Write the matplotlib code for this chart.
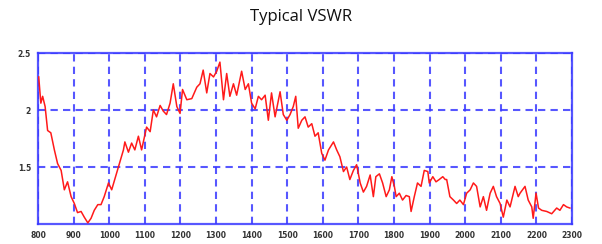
import matplotlib
matplotlib.use("Agg")
import matplotlib.pyplot as plt

title = "Typical VSWR"

freq_mhz = [802, 808, 813, 820, 827, 836, 846, 855, 865, 874, 883, 893, 902, 911, 921, 930,
            940, 949, 958, 968, 977, 986, 998, 1007, 1026, 1040, 1044, 1054, 1063, 1072, 1082,
            1091, 1105, 1115, 1124, 1133, 1143, 1152, 1161, 1171, 1180, 1190, 1199, 1206, 1218,
            1232, 1246, 1255, 1264, 1274, 1283, 1293, 1302, 1311, 1321, 1330, 1339, 1349, 1358,
            1372, 1382, 1391, 1400, 1410, 1419, 1428, 1438, 1447, 1456, 1466, 1480, 1489, 1499,
            1508, 1517, 1524, 1531, 1541, 1550, 1559, 1569, 1578, 1587, 1597, 1606, 1616, 1630,
            1639, 1648, 1658, 1667, 1676, 1686, 1695, 1705, 1714, 1723, 1733, 1742, 1749, 1759,
            1768, 1778, 1787, 1794, 1801, 1806, 1815, 1824, 1834, 1843, 1848, 1857, 1866, 1876,
            1885, 1895, 1899, 1909, 1918, 1927, 1937, 1944, 1948, 1957, 1967, 1976, 1985, 1995,
            2004, 2014, 2023, 2032, 2042, 2051, 2060, 2070, 2079, 2088, 2098, 2107, 2117, 2126,
            2140, 2149, 2154, 2168, 2177, 2187, 2191, 2199, 2206, 2215, 2229, 2243, 2257, 2266,
            2276, 2285, 2294]

vswr = [2.29, 2.06, 2.12, 2.03, 1.82, 1.80, 1.65, 1.53, 1.47, 1.30, 1.37, 1.24, 1.18, 1.10, 1.11, 1.06,
        1.01, 1.05, 1.12, 1.17, 1.17, 1.24, 1.36, 1.30, 1.50, 1.65, 1.72, 1.63, 1.71, 1.65, 1.77,
        1.65, 1.85, 1.81, 2.00, 1.94, 2.04, 1.99, 1.96, 2.06, 2.23, 2.03, 1.97, 2.18, 2.09,
        2.10, 2.20, 2.23, 2.35, 2.15, 2.32, 2.29, 2.34, 2.42, 2.09, 2.32, 2.12, 2.23, 2.13,
        2.34, 2.18, 2.23, 2.06, 2.01, 2.12, 2.09, 2.13, 1.91, 2.15, 1.94, 2.16, 1.96, 1.91,
        1.96, 2.03, 2.12, 1.84, 1.91, 1.94, 1.85, 1.88, 1.77, 1.80, 1.62, 1.56, 1.65, 1.72,
        1.65, 1.59, 1.46, 1.50, 1.39, 1.47, 1.52, 1.36, 1.28, 1.33, 1.43, 1.24, 1.415, 1.44,
        1.36, 1.24, 1.30, 1.415, 1.33, 1.24, 1.27, 1.21, 1.25, 1.24, 1.11, 1.24, 1.36, 1.33,
        1.47, 1.46, 1.36, 1.415, 1.37, 1.39, 1.415, 1.39, 1.39, 1.24, 1.21, 1.18, 1.21, 1.17,
        1.27, 1.30, 1.36, 1.33, 1.15, 1.24, 1.12, 1.27, 1.33, 1.24, 1.18, 1.06, 1.21, 1.15,
        1.33, 1.24, 1.27, 1.33, 1.21, 1.15, 1.05, 1.27, 1.14, 1.12, 1.11, 1.09, 1.14, 1.12,
        1.17, 1.15, 1.14]

x_ticks = list(range(800, 2301, 100))
y_ticks = [1.5, 2.0, 2.5]
y_tick_labels = ["1.5", "2", "2.5"]

fig = plt.figure(figsize=(6.02, 2.44), dpi=100)
ax = fig.add_axes([38 / 602, 20 / 244, 534 / 602, 171 / 244])

blue = "#3a3aff"
ax.plot(freq_mhz, vswr, color="#ff1a1a", linewidth=1.1, zorder=3)
ax.set_xlim(800, 2300)
ax.set_ylim(1.0, 2.5)
ax.set_xticks(x_ticks)
ax.set_xticklabels([str(t) for t in x_ticks])
ax.set_yticks(y_ticks)
ax.set_yticklabels(y_tick_labels)
ax.grid(True, color=blue, linestyle=(0, (3.5, 2.5)), linewidth=1.5, alpha=0.85)
ax.set_axisbelow(True)
for s in ax.spines.values():
    s.set_color(blue)
    s.set_linewidth(1.6)
    s.set_alpha(0.85)
ax.tick_params(length=0, labelsize=5.5, colors="#333333", pad=5)
for lab in ax.get_xticklabels() + ax.get_yticklabels():
    lab.set_fontweight("bold")

fig.text(0.5, 1 - 17 / 244, title, ha="center", va="center",
         fontsize=12, family="Open Sans", color="#111111")

fig.savefig("out.png", dpi=100)
